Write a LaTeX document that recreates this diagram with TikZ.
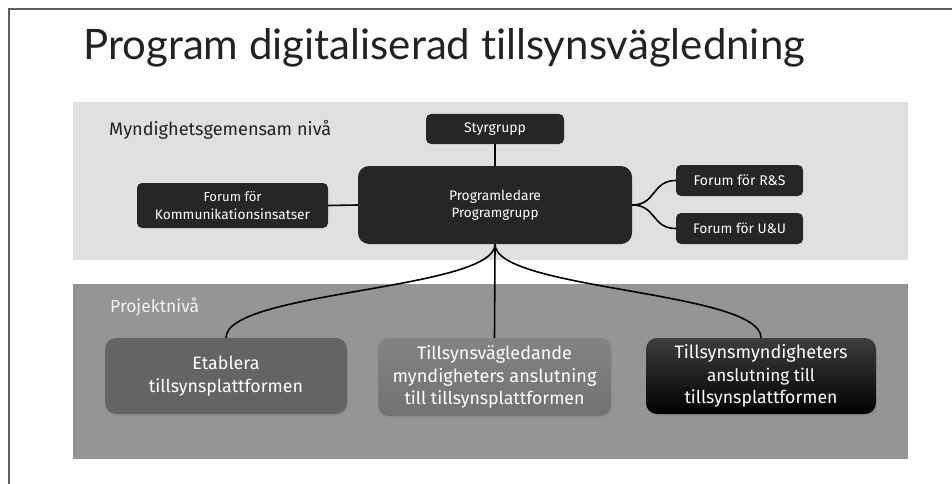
\documentclass[tikz,border=0pt]{standalone}
\usepackage{fontspec}
\usepackage{graphicx}
\setmainfont{Fira Sans}[Ligatures=NoCommon]
\newfontfamily\titlefont{Lato}[Ligatures=NoCommon]
\usetikzlibrary{shadows}
\newcommand{\fitw}[2]{\resizebox{#1}{!}{#2}}
\definecolor{framecol}{HTML}{5E5E5E}
\definecolor{bandlight}{HTML}{E0E0E0}
\definecolor{banddark}{HTML}{959595}
\definecolor{boxdark}{HTML}{262626}
\definecolor{etabcol}{HTML}{646464}
\definecolor{midtop}{HTML}{838383}
\definecolor{midbot}{HTML}{727272}
\definecolor{righttop}{HTML}{3E3E3E}
\definecolor{textdark}{HTML}{222222}
\definecolor{textlight}{HTML}{F2F2F2}
\tikzset{
  topbox/.style={draw=none, fill=boxdark, rounded corners=5pt, text=white, align=center,
    font=\fontsize{12}{17.5}\selectfont, inner sep=0pt},
  lowbox/.style={draw=none, rounded corners=11pt, text=white, align=center,
    font=\fontsize{16.5}{22.5}\selectfont, inner sep=0pt,
    drop shadow={opacity=0.25, shadow xshift=1pt, shadow yshift=-2pt}},
  conn/.style={draw=black, line width=1.6pt},
  lvltext/.style={anchor=base west, inner sep=0pt, font=\fontsize{18}{22}\selectfont}
}
\begin{document}
\begin{tikzpicture}[x=1pt,y=-1pt]
\useasboundingbox (0,0) rectangle (952,484);
\fill[white] (0,0) rectangle (952,484);
% frame
\draw[framecol, line width=1.4pt] (9,490) -- (9,9) -- (960,9);
% title
\node[anchor=base west, inner sep=0pt, text=textdark, font=\titlefont\fontsize{40}{44}\selectfont] (title) at (83,60) {\fitw{722pt}{Program digitaliserad tillsynsvägledning}};
% bands
\fill[bandlight] (73,102) rectangle (908,260);
\fill[banddark] (73,284) rectangle (908,459);
\node[lvltext, text=textdark] (lvl1) at (109,135) {\fitw{222pt}{Myndighetsgemensam nivå}};
\node[lvltext, text=textlight] (lvl2) at (110,312) {\fitw{89pt}{Projektnivå}};
% top nodes
\node[topbox, minimum width=138pt, minimum height=30pt] (sty) at (495,129) {\fitw{62pt}{Styrgrupp}};
\node[topbox, rounded corners=11pt, minimum width=274pt, minimum height=78pt] (prog) at (495,205) {\fitw{92pt}{Programledare}\\\fitw{87pt}{Programgrupp}};
\node[topbox, minimum width=191pt, minimum height=45pt] (kom) at (232.5,205.5) {\fitw{58pt}{Forum för}\\\fitw{155pt}{Kommunikationsinsatser}};
\node[topbox, minimum width=127pt, minimum height=31pt] (rs) at (739.5,180.5) {\fitw{92pt}{Forum för R\&S}};
\node[topbox, minimum width=127pt, minimum height=31pt] (uu) at (739.5,228.5) {\fitw{93pt}{Forum för U\&U}};
% bottom nodes
\node[lowbox, fill=etabcol, minimum width=242pt, minimum height=76pt] (etab) at (226,376) {\fitw{67pt}{Etablera}\\\fitw{154pt}{tillsynsplattformen}};
\node[lowbox, top color=midtop, bottom color=midbot, minimum width=233pt, minimum height=78pt] (tillv) at (494.5,377) {\fitw{155pt}{Tillsynsvägledande}\\\fitw{204pt}{myndigheters anslutning}\\\fitw{180pt}{till tillsynsplattformen}};
\node[lowbox, top color=righttop, bottom color=black, minimum width=230pt, minimum height=76pt] (tillm) at (761,376) {\fitw{173pt}{Tillsynsmyndigheters}\\\fitw{108pt}{anslutning till}\\\fitw{153pt}{tillsynsplattformen}};
% connectors
\draw[conn] (sty.south) -- (prog.north);
\draw[conn] (kom.east) -- (prog.west);
\draw[conn] (prog.east) .. controls +(24,0) and +(-24,0) .. (rs.west);
\draw[conn] (prog.east) .. controls +(24,0) and +(-24,0) .. (uu.west);
\draw[conn] (prog.south) -- (tillv.north);
\draw[conn] (prog.south) .. controls +(0,46) and +(0,-47) .. (etab.north);
\draw[conn] (prog.south) .. controls +(0,46) and +(0,-47) .. (tillm.north);
\end{tikzpicture}
\end{document}
